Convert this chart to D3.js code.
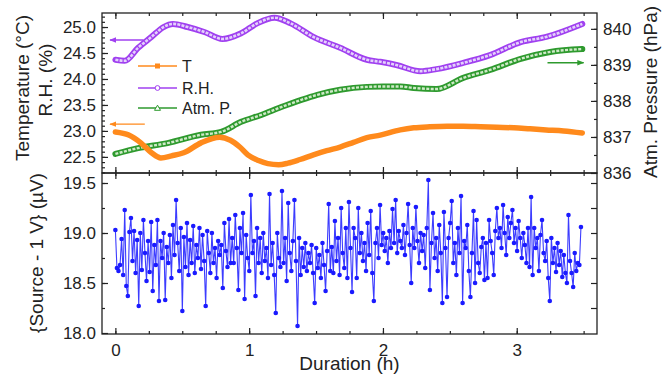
<!DOCTYPE html>
<html>
<head>
<meta charset="utf-8">
<script src="https://cdn.jsdelivr.net/npm/d3@7"></script>
<style>
  body { margin: 0; background: #fff; }
  text { font-family: "Liberation Sans", Arial, sans-serif; fill: #222; }
</style>
</head>
<body>
<script>
// temperature (left axis, top panel)
const tT = [0, 0.1, 0.19, 0.27, 0.34, 0.42, 0.51, 0.64, 0.78, 0.86, 0.93, 0.99, 1.07, 1.14, 1.22, 1.29, 1.38, 1.48, 1.58, 1.68, 1.78, 1.88, 1.98, 2.13, 2.23, 2.35, 2.48, 2.6, 2.73, 2.85, 2.98, 3.1, 3.22, 3.35, 3.49];
const temp = [22.98, 22.92, 22.77, 22.58, 22.48, 22.52, 22.58, 22.77, 22.88, 22.82, 22.69, 22.54, 22.43, 22.37, 22.35, 22.38, 22.45, 22.54, 22.62, 22.69, 22.78, 22.87, 22.92, 23.02, 23.06, 23.08, 23.09, 23.09, 23.08, 23.07, 23.06, 23.04, 23.02, 23.0, 22.96];

// relative humidity (left axis, top panel)
const tRH = [0, 0.07, 0.17, 0.27, 0.36, 0.43, 0.54, 0.67, 0.8, 0.94, 1.06, 1.19, 1.31, 1.48, 1.68, 1.88, 1.98, 2.1, 2.28, 2.4, 2.6, 2.8, 3.03, 3.22, 3.49];
const rh = [24.37, 24.35, 24.6, 24.81, 25.0, 25.06, 25.0, 24.9, 24.77, 24.88, 25.07, 25.18, 25.07, 24.81, 24.6, 24.37, 24.33, 24.27, 24.15, 24.19, 24.31, 24.46, 24.71, 24.81, 25.06];

// atmospheric pressure (right axis, top panel)
const tP = [0, 0.17, 0.39, 0.64, 0.79, 0.94, 1.09, 1.24, 1.39, 1.51, 1.68, 1.88, 2.0, 2.13, 2.23, 2.4, 2.6, 2.8, 3.03, 3.25, 3.49];
const press = [836.53, 836.69, 836.83, 837.06, 837.14, 837.42, 837.61, 837.83, 838.03, 838.17, 838.31, 838.39, 838.40, 838.40, 838.36, 838.33, 838.64, 838.86, 839.17, 839.36, 839.44];

// source - 1 V (bottom panel), evenly sampled from 0 to 3.48 h
const tEnd = 3.48;
const volt = [
  19.03, 18.65, 18.62, 18.68, 18.94, 18.58, 19.23, 18.47, 18.37, 19.01,
  19.15, 18.72, 19.02, 18.60, 18.93, 18.27, 19.00, 18.63, 19.13, 18.80,
  18.52, 18.92, 18.61, 19.11, 18.42, 18.88, 18.68, 19.13, 18.32, 18.92,
  18.75, 19.00, 18.33, 18.86, 18.70, 18.98, 18.55, 19.08, 18.78, 19.33,
  18.90, 18.62, 19.05, 18.22, 18.96, 18.66, 19.10, 18.58, 18.93, 18.70,
  19.07, 18.60, 18.88, 18.75, 19.05, 18.64, 18.98, 18.72, 18.27, 19.02,
  18.80, 18.60, 19.00, 18.70, 18.85, 18.55, 18.92, 18.78, 18.88, 18.45,
  19.10, 18.82, 18.66, 19.14, 18.70,
  18.95, 18.70, 19.18, 18.85, 18.43, 19.05, 18.80, 19.20, 18.34, 18.98,
  18.75, 18.62, 19.38, 18.80, 18.92, 18.37, 19.05, 18.70, 18.95, 18.60,
  19.00, 18.72, 18.85, 18.55, 19.39, 18.68, 18.90, 18.58, 18.20, 19.00,
  18.75, 18.66, 19.42, 18.70, 18.95, 18.52, 19.30, 18.80, 18.62, 18.92,
  19.33, 18.72, 18.07, 18.95, 18.58, 18.85, 18.66, 18.90, 18.62, 18.80,
  18.70, 18.88, 18.60, 18.30, 18.85, 18.65, 18.78, 18.55, 18.90, 18.68,
  18.42, 18.82, 19.29, 18.62, 18.86, 18.60, 19.12, 18.72, 18.95, 18.58,
  19.25, 18.80, 18.65, 19.05, 18.55,
  19.31, 18.85, 18.41, 19.05, 18.95, 18.55, 19.25, 18.80, 19.00, 18.72,
  18.90, 18.62, 19.10, 18.78, 19.22, 18.60, 18.32, 18.90, 19.05, 18.75,
  19.28, 18.88, 19.00, 18.82, 18.95, 18.70, 19.02, 18.85, 19.24, 18.90,
  19.33, 18.80, 19.02, 18.92, 18.85, 19.08, 18.78, 19.00, 19.29, 18.88,
  18.50, 19.05, 18.85, 19.26, 18.92, 18.70, 19.00, 18.82, 18.98, 18.65,
  19.05, 19.53, 18.43, 18.90, 19.20, 18.75, 18.95, 18.62, 19.08, 18.80,
  18.30, 19.21, 18.85, 18.36, 18.95, 19.10, 19.32, 18.70, 18.90, 18.58,
  19.05, 18.80, 19.37, 18.30, 18.92,
  18.85, 19.08, 18.62, 18.36, 18.80, 19.22, 18.50, 19.13, 18.70, 18.60,
  18.86, 18.95, 18.53, 18.90, 18.55, 19.13, 18.92, 18.80, 18.58, 19.02,
  19.25, 18.95, 19.05, 18.85, 19.28, 19.00, 18.78, 19.16, 18.95, 19.10,
  19.23, 18.90, 19.05, 18.82, 19.12, 18.95, 18.75, 19.00, 18.88, 18.70,
  19.05, 18.66, 19.36, 18.58, 19.05, 18.85, 18.95, 18.62, 18.98, 19.13,
  18.80, 18.72, 18.92, 18.55, 18.32, 18.95, 18.70, 18.85, 18.61, 18.90,
  18.68, 18.82, 18.56, 18.78, 18.60, 18.50, 19.18, 18.72, 18.60, 18.46,
  18.80, 18.62, 18.70, 18.68, 19.06
];

const legendNames = ["T", "R.H.", "Atm. P."];

const orange = "#ff8a1c", purple = "#a040f0", green = "#2e9a2e", blue = "#1a1aff";

const W = 670, H = 379;
const L = 102, R = 597, T0 = 13, MID = 173, B = 334;

const svg = d3.select("body").append("svg").attr("width", W).attr("height", H);

const x = d3.scaleLinear().domain([-0.1, 3.6]).range([L, R]);
const yL = d3.scaleLinear().domain([22.19, 25.27]).range([MID, T0]);
const yP = d3.scaleLinear().domain([836, 840.44]).range([MID, T0]);
const yV = d3.scaleLinear().domain([17.99, 19.6]).range([B, MID]);

const fmt1 = d3.format(".1f");
const minorX = d3.range(0, 3.6, 0.25);
const majorX = [0, 1, 2, 3];

function ax(axis, tx, ty, vals, size, fmt, pad, fs) {
  const g = svg.append("g").attr("transform", `translate(${tx},${ty})`)
    .call(axis.tickValues(vals).tickSize(size).tickPadding(pad).tickFormat(fmt));
  g.select(".domain").remove();
  g.selectAll("line").attr("stroke", "#222").attr("stroke-width", 1.2);
  g.selectAll("text").style("font-size", (fs || 17) + "px").attr("fill", "#222")
    .style("font-family", "Liberation Sans, Arial, sans-serif");
  return g;
}

// x ticks on every horizontal edge, pointing inward
ax(d3.axisTop(x), 0, T0, minorX, -3, "", 0);
ax(d3.axisTop(x), 0, T0, majorX, -6, "", 0);
ax(d3.axisBottom(x), 0, MID, minorX, -3, "", 0);
ax(d3.axisBottom(x), 0, MID, majorX, -6, "", 0);
ax(d3.axisTop(x), 0, MID, minorX, -3, "", 0);
ax(d3.axisTop(x), 0, MID, majorX, -6, "", 0);
ax(d3.axisBottom(x), 0, B, minorX, -3, "", 0);
ax(d3.axisBottom(x), 0, B, majorX, -6, d3.format("d"), 10);

// left axis top panel
ax(d3.axisLeft(yL), L, 0, d3.range(22.2, 25.25, 0.1), -3, "", 0);
ax(d3.axisLeft(yL), L, 0, [22.5, 23, 23.5, 24, 24.5, 25], -6, fmt1, 6);
// right axis top panel
ax(d3.axisRight(yP), R, 0, d3.range(836.5, 840.4, 0.5), -3, "", 0);
ax(d3.axisRight(yP), R, 0, [836, 837, 838, 839, 840], -6, d3.format("d"), 6);
// left / right axes bottom panel
ax(d3.axisLeft(yV), L, 0, d3.range(18.25, 19.6, 0.25), -3, "", 0);
ax(d3.axisLeft(yV), L, 0, [18.0, 18.5, 19.0, 19.5], -6, fmt1, 6);
ax(d3.axisRight(yV), R, 0, d3.range(18.25, 19.6, 0.25), -6, "", 0);

// frames
svg.append("rect").attr("x", L).attr("y", T0).attr("width", R - L).attr("height", MID - T0)
  .attr("fill", "none").attr("stroke", "#222").attr("stroke-width", 1.3);
svg.append("rect").attr("x", L).attr("y", MID).attr("width", R - L).attr("height", B - MID)
  .attr("fill", "none").attr("stroke", "#222").attr("stroke-width", 1.3);

// top panel series
const lineOf = (ts, ys, yScale) => d3.line().curve(d3.curveMonotoneX)
  .x((d, i) => x(ts[i])).y(d => yScale(d))(ys);

const gTop = svg.append("g");
gTop.append("path").attr("d", lineOf(tRH, rh, yL)).attr("fill", "none")
  .attr("stroke", purple).attr("stroke-width", 6).attr("stroke-linecap", "round");
gTop.append("path").attr("d", lineOf(tRH, rh, yL)).attr("fill", "none")
  .attr("stroke", "#e4d2fb").attr("stroke-width", 2.6).attr("stroke-dasharray", "3 1.2");
gTop.append("path").attr("d", lineOf(tP, press, yP)).attr("fill", "none")
  .attr("stroke", green).attr("stroke-width", 6).attr("stroke-linecap", "round");
gTop.append("path").attr("d", lineOf(tP, press, yP)).attr("fill", "none")
  .attr("stroke", "#cfe9c8").attr("stroke-width", 2.4).attr("stroke-dasharray", "3 1.4");
gTop.append("path").attr("d", lineOf(tT, temp, yL)).attr("fill", "none")
  .attr("stroke", orange).attr("stroke-width", 5.5).attr("stroke-linecap", "round");

// arrows pointing to the matching axis
svg.append("defs").selectAll("marker").data([["aP", purple], ["aO", orange], ["aG", green]])
  .join("marker").attr("id", d => d[0]).attr("viewBox", "0 0 10 10")
  .attr("refX", 9).attr("refY", 5).attr("markerWidth", 7).attr("markerHeight", 7)
  .attr("markerUnits", "userSpaceOnUse").attr("orient", "auto")
  .append("path").attr("d", "M0,1L10,5L0,9z").attr("fill", d => d[1]);

const arrow = (t1, t2, yv, col, id) => svg.append("line")
  .attr("x1", x(t1)).attr("x2", x(t2)).attr("y1", yv).attr("y2", yv)
  .attr("stroke", col).attr("stroke-width", 1.4).attr("marker-end", `url(#${id})`);
arrow(0.21, -0.04, yL(24.75), purple, "aP");
arrow(0.22, -0.04, yL(23.13), orange, "aO");
arrow(3.23, 3.5, yP(839.06), green, "aG");

// legend
const leg = svg.append("g");
[orange, purple, green].forEach((c, i) => {
  const ly = [66, 88, 108][i];
  leg.append("line").attr("x1", 138).attr("x2", 177).attr("y1", ly).attr("y2", ly)
    .attr("stroke", c).attr("stroke-width", 1.6);
  if (i === 0) leg.append("rect").attr("x", 155).attr("y", ly - 2.5).attr("width", 5).attr("height", 5).attr("fill", c);
  else if (i === 1) leg.append("circle").attr("cx", 157.5).attr("cy", ly).attr("r", 2.4)
    .attr("fill", "#fff").attr("stroke", c).attr("stroke-width", 1);
  else leg.append("path").attr("d", `M154.5,${ly + 2.3}L157.5,${ly - 2.8}L160.5,${ly + 2.3}Z`)
    .attr("fill", "#fff").attr("stroke", c).attr("stroke-width", 1);
  leg.append("text").attr("x", 182).attr("y", ly + 6).style("font-size", "16px").text(legendNames[i]);
});

// bottom panel series
const dt = tEnd / (volt.length - 1);
const vline = d3.line().x((d, i) => x(i * dt)).y(d => yV(d));
svg.append("path").attr("d", vline(volt)).attr("fill", "none")
  .attr("stroke", blue).attr("stroke-width", 1.1).attr("stroke-opacity", 0.85);
svg.append("g").selectAll("circle").data(volt).join("circle")
  .attr("cx", (d, i) => x(i * dt)).attr("cy", d => yV(d)).attr("r", 2.3).attr("fill", blue);

// axis titles
const title = (txt, tx, ty, rot) => svg.append("text")
  .attr("transform", `translate(${tx},${ty}) rotate(${rot})`)
  .attr("text-anchor", "middle").style("font-size", "19px").text(txt);
title("Temperature (°C)", 29, 88, -90);
title("R.H. (%)", 52, 80, -90);
title("{Source - 1 V} (µV)", 43, 253, -90);
title("Atm. Pressure (hPa)", 657, 92, -90);
title("Duration (h)", (L + R) / 2, 370, 0);
</script>
</body>
</html>
